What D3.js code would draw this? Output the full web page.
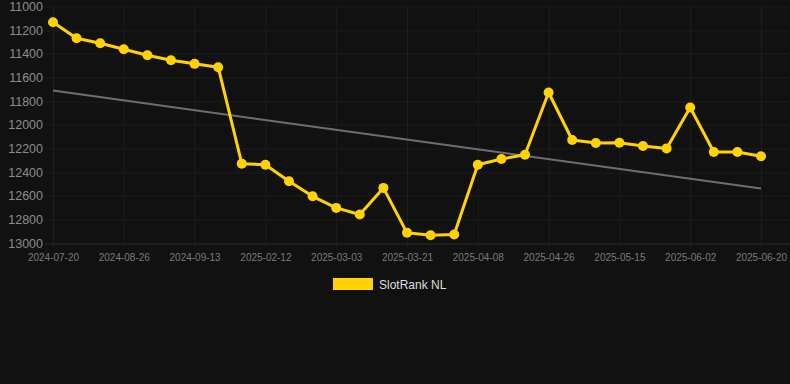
<!DOCTYPE html>
<html>
<head>
<meta charset="UTF-8">
<title>SlotRank NL</title>
<style>
  body { margin: 0; background: #111111; }
  svg { display: block; font-family: "Liberation Sans", Arial, sans-serif; }
</style>
</head>
<body>
<script src="https://d3js.org/d3.v7.min.js"></script>
<script>
// dates (categories) - only every 3rd one is labelled on the axis
var dates = ["2024-07-20", "2024-07-29", "2024-08-07", "2024-08-26", "2024-08-30", "2024-09-04",
  "2024-09-13", "2024-09-20", "2025-01-28", "2025-02-12", "2025-02-18", "2025-02-24",
  "2025-03-03", "2025-03-09", "2025-03-15", "2025-03-21", "2025-03-27", "2025-04-02",
  "2025-04-08", "2025-04-14", "2025-04-20", "2025-04-26", "2025-05-03", "2025-05-09",
  "2025-05-15", "2025-05-21", "2025-05-27", "2025-06-02", "2025-06-08", "2025-06-14",
  "2025-06-20"]
var rankValues = [11133, 11268, 11311, 11362, 11412, 11454, 11485, 11513, 12329, 12338,
  12478, 12605, 12703, 12759, 12534, 12914, 12934, 12928, 12338, 12290,
  12253, 11727, 12129, 12155, 12152, 12180, 12200, 11854, 12230, 12230, 12267]
var trendValues = [11711, 12540] // start and end of trend line
var yTicks = [11000, 11200, 11400, 11600, 11800, 12000, 12200, 12400, 12600, 12800, 13000]
var seriesName = "SlotRank NL"

var width = 790, height = 384
var margin = { top: 6.5, right: 29, bottom: 141, left: 53 }
var plotW = width - margin.left - margin.right
var plotH = height - margin.top - margin.bottom

var svg = d3.select("body").append("svg")
  .attr("width", width)
  .attr("height", height)

svg.append("rect").attr("width", width).attr("height", height).attr("fill", "#111111")

var x = d3.scalePoint().domain(dates).range([0, plotW])
var y = d3.scaleLinear().domain([11000, 13000]).range([0, plotH]) // reversed: 11000 on top

var g = svg.append("g").attr("transform", "translate(" + margin.left + "," + margin.top + ")")

var labelled = dates.filter(function (d, i) { return i % 3 === 0 })

// vertical grid, a little past the bottom line
g.append("g")
  .attr("transform", "translate(0," + (plotH + 4) + ")")
  .call(d3.axisBottom(x).tickValues(labelled).tickSize(-plotH - 4).tickFormat(""))
  .call(function (s) {
    s.select(".domain").remove()
    s.selectAll("line").attr("stroke", "#1d1d1d")
  })

// horizontal grid, running to the right edge
g.selectAll("line.hgrid")
  .data(yTicks)
  .enter()
  .append("line")
  .attr("class", "hgrid")
  .attr("x1", -8).attr("x2", width - margin.left)
  .attr("y1", function (d) { return Math.round(y(d)) + 0.5 })
  .attr("y2", function (d) { return Math.round(y(d)) + 0.5 })
  .attr("stroke", function (d) { return d === 13000 ? "#2a2a2a" : "#1d1d1d" })

// y labels
g.append("g")
  .call(d3.axisLeft(y).tickValues(yTicks).tickSize(0).tickPadding(10).tickFormat(d3.format("d")))
  .call(function (s) {
    s.select(".domain").remove()
    s.selectAll("text").attr("fill", "#8c8c8c").attr("font-size", "12.5px")
      .attr("font-family", "Liberation Sans, Arial, sans-serif")
  })

// x labels
g.append("g")
  .attr("transform", "translate(0," + plotH + ")")
  .call(d3.axisBottom(x).tickValues(labelled).tickSize(0).tickPadding(11))
  .call(function (s) {
    s.select(".domain").remove()
    s.selectAll("text").attr("fill", "#7a7a7a").attr("font-size", "10px")
      .attr("font-family", "Liberation Sans, Arial, sans-serif")
  })

// trend line
g.append("line")
  .attr("x1", x(dates[0])).attr("y1", y(trendValues[0]))
  .attr("x2", x(dates[dates.length - 1])).attr("y2", y(trendValues[1]))
  .attr("stroke", "#6e6e6e").attr("stroke-width", 2)

// series line
var line = d3.line()
  .x(function (d, i) { return x(dates[i]) })
  .y(function (d) { return y(d) })

g.append("path")
  .datum(rankValues)
  .attr("d", line)
  .attr("fill", "none")
  .attr("stroke", "#ffd200")
  .attr("stroke-width", 3)
  .attr("stroke-linejoin", "round")

g.selectAll("circle.pt")
  .data(rankValues)
  .enter()
  .append("circle")
  .attr("class", "pt")
  .attr("cx", function (d, i) { return x(dates[i]) })
  .attr("cy", function (d) { return y(d) })
  .attr("r", 5)
  .attr("fill", "#ffd200")

// legend
var legend = svg.append("g").attr("transform", "translate(333,278)")
legend.append("rect").attr("width", 40).attr("height", 12).attr("fill", "#ffd200")
legend.append("text")
  .attr("x", 46).attr("y", 10.5)
  .attr("fill", "#dddddd")
  .attr("font-size", "12px")
  .text(seriesName)
</script>
</body>
</html>
